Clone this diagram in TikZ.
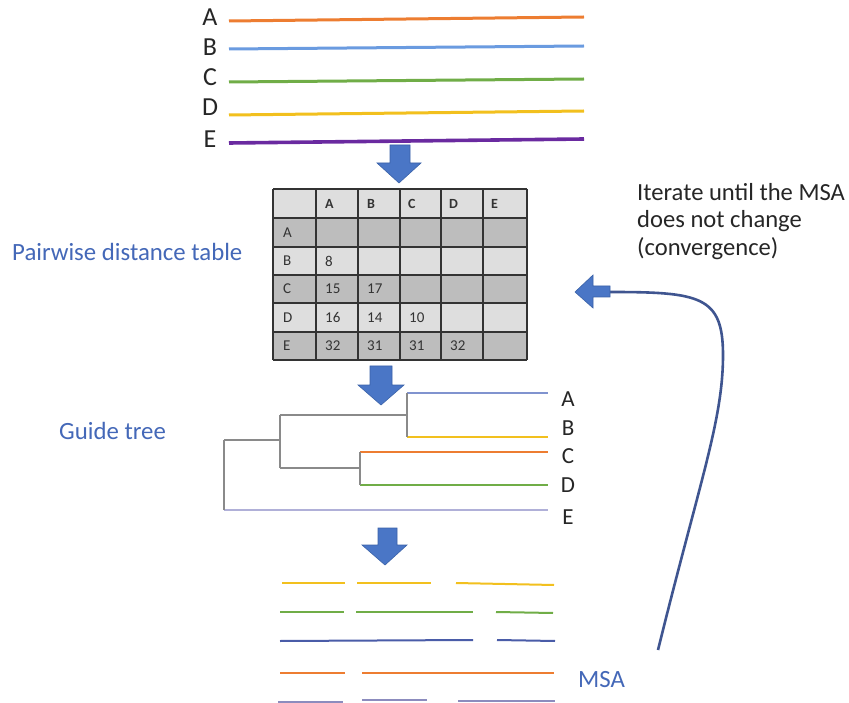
\documentclass[tikz,border=0pt]{standalone}
\usepackage{fontspec}
\setmainfont{Carlito}
\definecolor{seqA}{HTML}{ED7D31}
\definecolor{seqB}{HTML}{6A9BE0}
\definecolor{seqC}{HTML}{70AD47}
\definecolor{seqD}{HTML}{F2C01E}
\definecolor{seqE}{HTML}{6A2AA0}
\definecolor{treeA}{HTML}{8093CF}
\definecolor{treeE}{HTML}{B0B0D8}
\definecolor{treeGray}{HTML}{8A8A8A}
\definecolor{msaBlue}{HTML}{4A5CA8}
\definecolor{msaGray}{HTML}{8C8CBE}
\definecolor{arrowBlue}{HTML}{4A76C6}
\definecolor{arrowEdge}{HTML}{3A62A8}
\definecolor{loopBlue}{HTML}{3F5590}
\definecolor{labelBlue}{HTML}{4468B8}
\definecolor{cellDark}{HTML}{BDBDBD}
\definecolor{cellLight}{HTML}{DEDEDE}
\definecolor{inkGray}{HTML}{262626}
\tikzset{
  seqline/.style={line width=3pt},
  seqlab/.style={font=\fontsize{26}{29}\selectfont, text=inkGray, inner sep=0pt},
  treelab/.style={font=\fontsize{23}{26}\selectfont, text=inkGray, inner sep=0pt},
  treeline/.style={line width=1.4pt},
  msaline/.style={line width=2pt},
  blockarrow/.style={fill=arrowBlue, draw=arrowEdge, line width=0.6pt},
  steplabel/.style={font=\fontsize{24.8}{28}\selectfont, text=labelBlue, inner sep=0pt, anchor=west},
  cellgrid/.style={draw=black!80, line width=1.3pt},
  celltext/.style={font=\fontsize{15}{17}\selectfont, text=black!80, inner sep=0pt, anchor=west},
  headtext/.style={celltext, font=\fontsize{14}{16}\selectfont\bfseries},
}
\begin{document}
\begin{tikzpicture}[x=1pt,y=-1pt]
\useasboundingbox (0,0) rectangle (849,703);
\fill[white] (0,0) rectangle (849,703);

% ---- input sequences ----
\node[seqlab] (sA) at (210,17.5) {A};
\node[seqlab] (sB) at (210,47) {B};
\node[seqlab] (sC) at (210,77.5) {C};
\node[seqlab] (sD) at (210,107.5) {D};
\node[seqlab] (sE) at (210,139.5) {E};
\draw[seqline, seqA] (229,21) -- (584,17);
\draw[seqline, seqB] (229,49) -- (584,46);
\draw[seqline, seqC] (229,82) -- (584,79);
\draw[seqline, seqD] (229,115) -- (584,111);
\draw[seqline, seqE, line width=3.6pt] (229,143) -- (584,139);

% ---- arrow: sequences -> table ----
\path[blockarrow] (390,145) -- (410,145) -- (410,163) -- (421,163) -- (399,183)
  -- (377,163) -- (390,163) -- cycle;

% ---- pairwise distance table ----
\fill[cellLight] (273,189) rectangle (527,218);
\fill[cellDark]  (273,218) rectangle (527,247);
\fill[cellLight] (273,247) rectangle (527,275);
\fill[cellDark]  (273,275) rectangle (527,303);
\fill[cellLight] (273,303) rectangle (527,332);
\fill[cellDark]  (273,332) rectangle (527,360);
\foreach \x in {273,316,358,400,441,483,527}
  \draw[cellgrid] (\x,189) -- (\x,360);
\foreach \y in {189,218,247,275,303,332,360}
  \draw[cellgrid] (273,\y) -- (527,\y);
% header row
\node[headtext] (hA) at (325,203.5) {A};
\node[headtext] (hB) at (367,203.5) {B};
\node[headtext] (hC) at (408,203.5) {C};
\node[headtext] (hD) at (449,203.5) {D};
\node[headtext] (hE) at (491,203.5) {E};
% row labels
\node[celltext] (rA) at (283,232.5) {A};
\node[celltext] (rB) at (283,261) {B};
\node[celltext] (rC) at (283,289) {C};
\node[celltext] (rD) at (283,317.5) {D};
\node[celltext] (rE) at (283,346) {E};
% distances
\node[celltext] (dBA) at (325,261) {8};
\node[celltext] (dCA) at (325,289) {15};
\node[celltext] (dCB) at (367,289) {17};
\node[celltext] (dDA) at (325,317.5) {16};
\node[celltext] (dDB) at (367,317.5) {14};
\node[celltext] (dDC) at (409,317.5) {10};
\node[celltext] (dEA) at (325,346) {32};
\node[celltext] (dEB) at (367,346) {31};
\node[celltext] (dEC) at (409,346) {31};
\node[celltext] (dED) at (450,346) {32};

\node[steplabel] (ltable) at (12,252) {Pairwise distance table};

% ---- arrow: table -> tree ----
\path[blockarrow] (370,366) -- (392,366) -- (392,385) -- (404,385) -- (381,405)
  -- (358,385) -- (370,385) -- cycle;

% ---- guide tree ----
\draw[treeline, treeA] (407,393) -- (548,393);
\draw[treeline, seqD]  (407,437) -- (548,437);
\draw[treeline, seqA]  (360,452) -- (548,452);
\draw[treeline, seqC]  (360,485) -- (548,485);
\draw[treeline, treeE] (224,510) -- (548,510);
\draw[treeline, treeGray] (407,393) -- (407,437);
\draw[treeline, treeGray] (360,452) -- (360,485);
\draw[treeline, treeGray] (280,415) -- (407,415);
\draw[treeline, treeGray] (280,468) -- (360,468);
\draw[treeline, treeGray] (280,415) -- (280,468);
\draw[treeline, treeGray] (224,440) -- (280,440);
\draw[treeline, treeGray] (224,440) -- (224,510);
\node[treelab] (tA) at (568,399) {A};
\node[treelab] (tB) at (568,428) {B};
\node[treelab] (tC) at (568,456) {C};
\node[treelab] (tD) at (568,485) {D};
\node[treelab] (tE) at (568,517) {E};

\node[steplabel] (ltree) at (59,431) {Guide tree};

% ---- arrow: tree -> alignment ----
\path[blockarrow] (378,528) -- (397,528) -- (397,545) -- (407,545) -- (385,565)
  -- (362,545) -- (378,545) -- cycle;

% ---- multiple sequence alignment ----
\draw[msaline, seqD] (282,583) -- (345,583);
\draw[msaline, seqD] (357,583) -- (431,583);
\draw[msaline, seqD] (456,583) -- (554,585);
\draw[msaline, seqC] (280,612) -- (344,612);
\draw[msaline, seqC] (356,612) -- (473,612);
\draw[msaline, seqC] (496,612) -- (553,613);
\draw[msaline, msaBlue] (280,641) -- (473,640);
\draw[msaline, msaBlue] (497,640) -- (555,641);
\draw[msaline, seqA] (280,673) -- (345,673);
\draw[msaline, seqA] (362,673) -- (554,673);
\draw[msaline, msaGray] (278,702) -- (343,702);
\draw[msaline, msaGray] (362,700) -- (427,700);
\draw[msaline, msaGray] (458,701) -- (555,701);

\node[steplabel] (lmsa) at (578,680) {MSA};

% ---- iteration loop ----
\node[anchor=north west, align=left, inner sep=0pt, text=inkGray,
  font=\fontsize{24.6}{27.5}\selectfont] (iter) at (637,183)
  {Iterate until the MSA\\does not change\\(convergence)};
\coordinate (loopStart) at (658,650);
\coordinate (loopEnd) at (610,292);
\draw[loopBlue, line width=2.6pt] (loopStart)
  .. controls (700,480) and (723,420) .. (723,355)
  .. controls (723,296) and (700,292) .. (loopEnd);
\path[blockarrow] (610,286) -- (593,286) -- (593,275) -- (575,292) -- (593,308)
  -- (593,297) -- (610,297) -- cycle;
\end{tikzpicture}
\end{document}
